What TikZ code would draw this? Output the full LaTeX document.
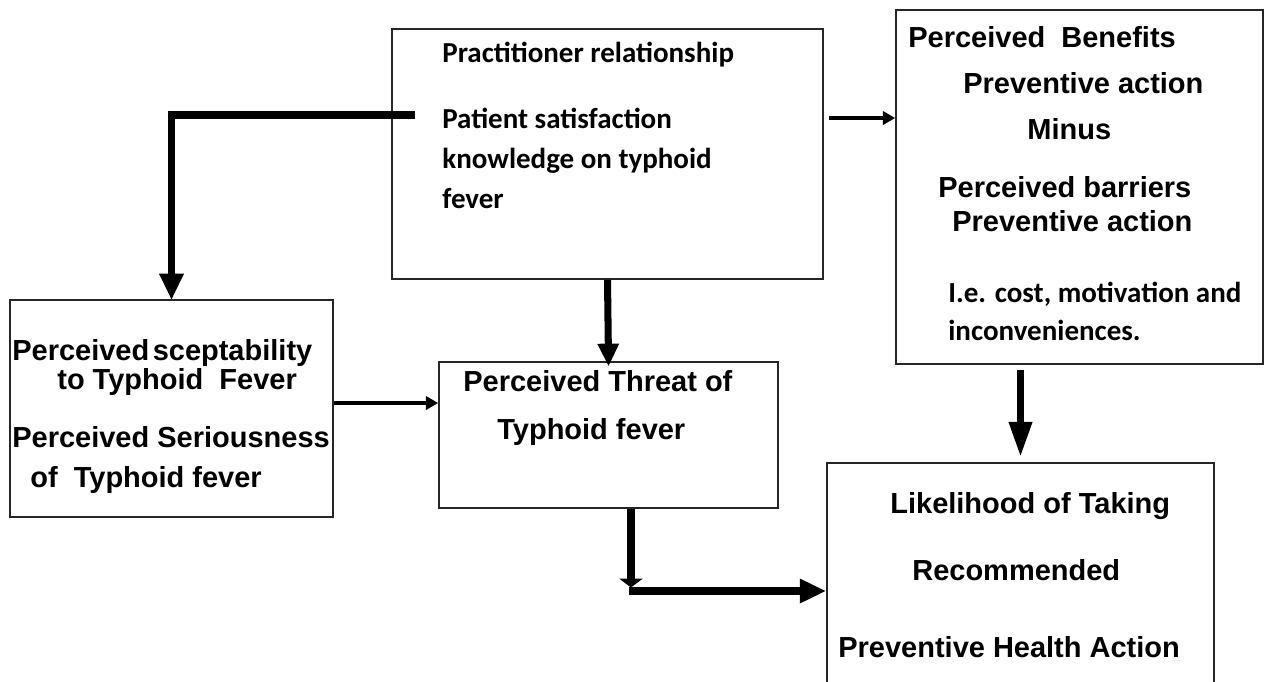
\documentclass[tikz,border=0pt]{standalone}
\usepackage{fontspec}
\usepackage{tikz}
\usetikzlibrary{arrows.meta}
\usetikzlibrary{fit}
\newfontfamily\arialfont{Liberation Sans}
\newfontfamily\calibfont{Carlito}

\begin{document}
\begin{tikzpicture}[x=0.02cm,y=-0.02cm,
  box/.style={draw=black!85,line width=0.9pt,fill=white,inner sep=0pt},
  atxt/.style={anchor=base west,inner sep=0pt,font=\arialfont\bfseries\fontsize{16.5}{20}\selectfont},
  ctxt/.style={anchor=base west,inner sep=0pt,font=\calibfont\bfseries\fontsize{16.5}{20}\selectfont},
  thick arrow/.style={line width=4.5pt,-{Triangle[length=15pt,width=13pt]}},
  mid arrow/.style={line width=4pt,-{Triangle[length=13pt,width=11.5pt]}},
  thin arrow/.style={line width=2.5pt,-{Triangle[length=7pt,width=7.5pt]}}]
\useasboundingbox(0,0)rectangle(1274,681);
\clip(0,0)rectangle(1274,681);
\fill[white](0,0)rectangle(1274,681);

\node[box,fit={(392,29)(823,279)}](prac){};
\node[box,fit={(896,10)(1263,364)}](ben){};
\node[box,fit={(10,300)(333,517)}](susc){};
\node[box,fit={(439,362)(778,508)}](threat){};
\node[box,fit={(827,463)(1214,700)}](likely){};

\node[ctxt](prac1)at(442,62){Practitioner relationship};
\node[ctxt](prac2)at(442,128){Patient satisfaction};
\node[ctxt](prac3)at(442,168){knowledge on typhoid};
\node[ctxt](prac4)at(442,208){fever};

\node[atxt](ben1)at(908,47){Perceived\ \ Benefits};
\node[atxt](ben2)at(963,93){Preventive action};
\node[atxt](ben3)at(1027,139){Minus};
\node[atxt](ben4)at(938,197){Perceived barriers};
\node[atxt](ben5)at(952,231){Preventive action};
\node[ctxt](ben6)at(948,302){I.e. cost, motivation and};
\node[ctxt](ben7)at(948,340){inconveniences.};

\node[atxt](susc1)at(12,360){Perceived\hspace{0.12em}sceptability};
\node[atxt](susc2)at(57,389){to Typhoid\ \ Fever};
\node[atxt](susc3)at(12,447){Perceived Seriousness};
\node[atxt](susc4)at(30,487){of\ \ Typhoid fever};

\node[atxt](threat1)at(463,391){Perceived Threat of};
\node[atxt](threat2)at(497,439){Typhoid fever};

\node[atxt](likely1)at(890,513){Likelihood of Taking};
\node[atxt](likely2)at(912,580){Recommended};
\node[atxt](likely3)at(838,657){Preventive Health Action};

\coordinate(pracL)at(415,115);
\coordinate(bend)at(631,591);
\draw[line width=4.5pt](pracL)-|([yshift=10]susc.north);
\draw[thick arrow,shorten >=-0.5pt]([yshift=20]susc.north)--(susc.north);
\draw[mid arrow,shorten >=-3pt](prac.south)--(threat.north);
\draw[thin arrow,shorten <=3pt](prac.east|-0,118)--(ben.west|-0,118);
\draw[thin arrow](susc.east|-0,403)--(threat.west|-0,403);
\draw[line width=4pt,-{Triangle[length=5pt,width=13pt]}](threat.south-|bend)--([yshift=2]bend);
\draw[thick arrow]([xshift=-1]bend)--(likely.west|-bend);
\draw[line width=4pt,shorten <=3pt,-{Triangle[length=20pt,width=12.5pt]}](ben.south-|likely.north)--([yshift=3]likely.north);
\end{tikzpicture}
\end{document}
